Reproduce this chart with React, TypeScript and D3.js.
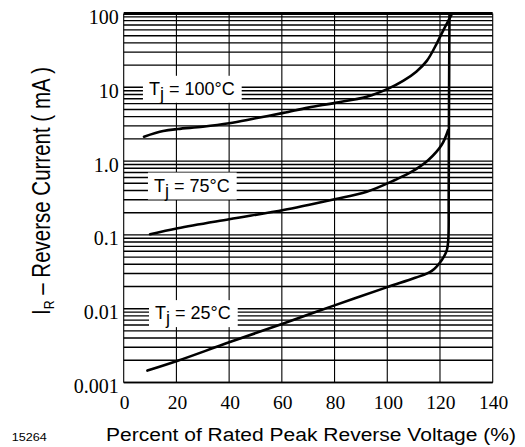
import React, { useEffect, useRef } from "react";
import * as d3 from "d3";

// axis ticks
const xTicks = [0, 20, 40, 60, 80, 100, 120, 140];
const yTicks = [100, 10, 1, 0.1, 0.01, 0.001];
const yTickLabels = ["100", "10", "1.0", "0.1", "0.01", "0.001"];

// Tj = 100°C
const pct100 = [7.7, 15, 20.5, 30, 40, 50, 60.6, 70, 80.2, 92.2, 100.4, 106, 111, 115, 118.8, 121.3, 123.6, 124.6];
const ir100 = [2.14, 2.55, 2.72, 2.92, 3.25, 3.8, 4.5, 5.3, 6.15, 7.46, 9.6, 12.2, 16.3, 22.8, 39.4, 59.7, 85, 100];

// Tj = 75°C
const pct75 = [10, 20.5, 40, 60.6, 70, 80, 92.2, 102.9, 109.3, 115.6, 120.6, 123.1];
const ir75 = [0.102, 0.123, 0.163, 0.217, 0.255, 0.305, 0.385, 0.555, 0.718, 1.035, 1.65, 2.64];

// Tj = 25°C
const pct25 = [9, 20.5, 40, 60.6, 80, 100, 110.6, 116.9, 120.7, 122.6, 123.15, 123.3, 123.4, 123.6];
const ir25 = [0.00145, 0.00197, 0.0035, 0.0063, 0.0111, 0.0196, 0.0262, 0.0325, 0.0457, 0.0624, 0.0853, 0.3, 3.6, 100];

const labelNames = ["100", "75", "25"];
const labelPct = [7.3, 9.2, 9.6];
const labelIr = [9.7, 0.474, 0.00885];

const W = 525;
const H = 447;
const margin = { top: 13.5, right: 32.3, bottom: 64.5, left: 123.7 };

export default function App() {
  const ref = useRef<SVGSVGElement | null>(null);

  useEffect(() => {
    if (!ref.current) return;
    const svg = d3.select(ref.current);
    svg.selectAll("*").remove();

    const x = d3.scaleLinear().domain([0, 140]).range([margin.left, W - margin.right]);
    const y = d3.scaleLog().domain([0.001, 100]).range([H - margin.bottom, margin.top]);
    const [x0, x1] = x.range();
    const [yb, yt] = y.range();

    // horizontal grid: 1..9 in each decade
    const hLines: number[] = [];
    for (let n = -3; n <= 1; n++) {
      for (let k = 1; k <= 9; k++) hLines.push(k * Math.pow(10, n));
    }
    svg
      .append("g")
      .selectAll("line")
      .data(hLines)
      .enter()
      .append("line")
      .attr("x1", x0)
      .attr("x2", x1)
      .attr("y1", (d) => y(d))
      .attr("y2", (d) => y(d))
      .attr("stroke", "#000")
      .attr("stroke-width", 1.4);

    // vertical grid
    svg
      .append("g")
      .selectAll("line")
      .data(xTicks)
      .enter()
      .append("line")
      .attr("x1", (d) => x(d))
      .attr("x2", (d) => x(d))
      .attr("y1", yt)
      .attr("y2", yb)
      .attr("stroke", "#000")
      .attr("stroke-width", 1.1);

    // frame
    svg.append("line").attr("x1", x0).attr("x2", x1).attr("y1", yt).attr("y2", yt).attr("stroke", "#000").attr("stroke-width", 3);
    svg.append("line").attr("x1", x0).attr("x2", x1).attr("y1", yb).attr("y2", yb).attr("stroke", "#000").attr("stroke-width", 1.4);

    // tick labels
    svg
      .append("g")
      .selectAll("text")
      .data(yTicks)
      .enter()
      .append("text")
      .attr("x", x0 - 5)
      .attr("y", (d) => y(d) + 10.5)
      .attr("text-anchor", "end")
      .attr("font-family", "'Liberation Serif', 'Times New Roman', serif")
      .attr("font-size", 20)
      .text((_, i) => yTickLabels[i]);

    svg
      .append("g")
      .selectAll("text")
      .data(xTicks)
      .enter()
      .append("text")
      .attr("x", (d) => x(d) + 1)
      .attr("y", 408.5)
      .attr("text-anchor", "middle")
      .attr("font-family", "'Liberation Serif', 'Times New Roman', serif")
      .attr("font-size", 19.5)
      .text((d) => String(d));

    // temperature labels with white boxes
    labelNames.forEach((name, i) => {
      const g = svg.append("g").attr("transform", `translate(${x(labelPct[i])},${y(labelIr[i])})`);
      const rect = g.append("rect").attr("fill", "#fff");
      const t = g
        .append("text")
        .attr("x", 6)
        .attr("y", 6.5)
        .attr("font-family", "'Liberation Sans', Arial, sans-serif")
        .attr("font-size", 18);
      t.append("tspan").text("T");
      t.append("tspan").attr("dy", 5).text("j");
      t.append("tspan").attr("dy", -5).text(` = ${name}\u00b0C`);
      const bw = (t.node() as SVGTextElement).getComputedTextLength();
      rect.attr("x", 0).attr("y", -12.5).attr("width", bw + 13).attr("height", 27);
    });

    // curves
    const line = d3
      .line<[number, number]>()
      .x((d) => x(d[0]))
      .y((d) => y(d[1]))
      .curve(d3.curveCatmullRom.alpha(0.5));
    const series: [number, number][][] = [
      pct100.map((p, i) => [p, ir100[i]]),
      pct75.map((p, i) => [p, ir75[i]]),
      pct25.map((p, i) => [p, ir25[i]]),
    ];
    svg
      .append("g")
      .selectAll("path")
      .data(series)
      .enter()
      .append("path")
      .attr("d", (d) => line(d) || "")
      .attr("fill", "none")
      .attr("stroke", "#000")
      .attr("stroke-width", 2.6)
      .attr("stroke-linecap", "round");

    // axis titles
    svg
      .append("text")
      .attr("x", 106)
      .attr("y", 441)
      .attr("font-family", "'Liberation Sans', Arial, sans-serif")
      .attr("font-size", 18)
      .attr("textLength", 410)
      .attr("lengthAdjust", "spacingAndGlyphs")
      .text("Percent of Rated Peak Reverse Voltage (%)");

    svg
      .append("text")
      .attr("x", 11.7)
      .attr("y", 440.7)
      .attr("font-family", "'Liberation Sans', Arial, sans-serif")
      .attr("font-size", 10.5)
      .attr("textLength", 35)
      .attr("lengthAdjust", "spacingAndGlyphs")
      .text("15264");

    const yl = svg
      .append("text")
      .attr("transform", "translate(50,191) rotate(-90) scale(1,1.25)")
      .attr("text-anchor", "middle")
      .attr("font-family", "'Liberation Sans', Arial, sans-serif")
      .attr("font-size", 20)
      .attr("textLength", 248)
      .attr("lengthAdjust", "spacingAndGlyphs");
    yl.append("tspan").text("I");
    yl.append("tspan").attr("font-size", 12).attr("dy", 3.5).text("R");
    yl.append("tspan").attr("dy", -3.5).text(" \u2013 Reverse Current ( mA )");
  }, []);

  return (
    <svg
      ref={ref}
      width={W}
      height={H}
      style={{ position: "absolute", left: 0, top: 0, background: "#fff" }}
    />
  );
}
